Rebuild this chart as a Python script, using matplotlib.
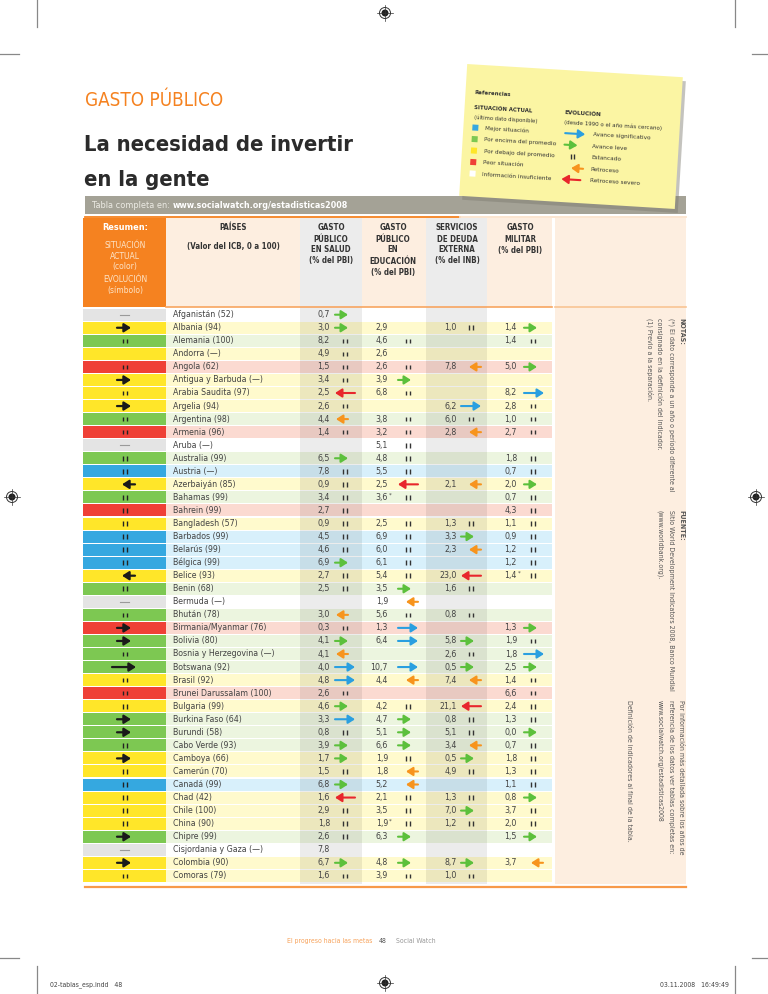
import matplotlib
matplotlib.use('Agg')
import matplotlib.pyplot as plt
from matplotlib import font_manager as fm
from matplotlib.patches import Rectangle, Polygon, Circle
import numpy as np

# narrow face if one is installed, else Liberation Sans
ttf = fm.fontManager.ttflist
if any(f.name == 'Liberation Sans Narrow' for f in ttf):
    plt.rcParams['font.family'] = ['Liberation Sans Narrow', 'DejaVu Sans']
elif any(f.name == 'DejaVu Sans' and 'condensed' in str(f.stretch) for f in ttf):
    plt.rcParams['font.family'] = ['DejaVu Sans']
    plt.rcParams['font.stretch'] = 'condensed'
else:
    plt.rcParams['font.family'] = ['Liberation Sans', 'DejaVu Sans']

# ---- data -------------------------------------------------------------
countries = ['Afganistán (52)', 'Albania (94)', 'Alemania (100)', 'Andorra (—)', 'Angola (62)',
             'Antigua y Barbuda (—)', 'Arabia Saudita (97)', 'Argelia (94)', 'Argentina (98)',
             'Armenia (96)', 'Aruba (—)', 'Australia (99)', 'Austria (—)', 'Azerbaiyán (85)',
             'Bahamas (99)', 'Bahrein (99)', 'Bangladesh (57)', 'Barbados (99)', 'Belarús (99)',
             'Bélgica (99)', 'Belice (93)', 'Benin (68)', 'Bermuda (—)', 'Bhután (78)',
             'Birmania/Myanmar (76)', 'Bolivia (80)', 'Bosnia y Herzegovina (—)', 'Botswana (92)',
             'Brasil (92)', 'Brunei Darussalam (100)', 'Bulgaria (99)', 'Burkina Faso (64)',
             'Burundi (58)', 'Cabo Verde (93)', 'Camboya (66)', 'Camerún (70)', 'Canadá (99)',
             'Chad (42)', 'Chile (100)', 'China (90)', 'Chipre (99)', 'Cisjordania y Gaza (—)',
             'Colombia (90)', 'Comoras (79)']
# situación actual: B mejor, G encima, Y debajo, R peor, N insuficiente
status = list('NYGYRYYYGRNGBYGRYBBBYGNGRGGGYRYGGGYYBYYYGNYY')
# evolución resumen: > avance, L avance significativo, < retroceso, s estancado, d sin dato, _ nada
summary_evo = ['d', '>', 's', '_', 's', '>', 's', '>', 's', 's', 'd', 's', 's', '<', 's', 's', 's', 's',
               's', 's', '<', 's', 'd', 's', '>', '>', 's', 'L', 's', 's', 's', '>', '>', 's', '>', 's',
               's', 's', 's', 's', '>', 'd', '>', 's']

health_val = ['0,7', '3,0', '8,2', '4,9', '1,5', '3,4', '2,5', '2,6', '4,4', '1,4', '', '6,5', '7,8', '0,9',
              '3,4', '2,7', '0,9', '4,5', '4,6', '6,9', '2,7', '2,5', '', '3,0', '0,3', '4,1', '4,1', '4,0',
              '4,8', '2,6', '4,6', '3,3', '0,8', '3,9', '1,7', '1,5', '6,8', '1,6', '2,9', '1,8', '2,6',
              '7,8', '6,7', '1,6']
health_evo = 'g g s s s s r s o s _ g s s s s s s s g s s _ o s g o b b s g b s g g s g r s s s _ g s'.split()

edu_val = ['', '2,9', '4,6', '2,6', '2,6', '3,9', '6,8', '', '3,8', '3,2', '5,1', '4,8', '5,5', '2,5',
           '3,6*', '', '2,5', '6,9', '6,0', '6,1', '5,4', '3,5', '1,9', '5,6', '1,3', '6,4', '', '10,7',
           '4,4', '', '4,2', '4,7', '5,1', '6,6', '1,9', '1,8', '5,2', '2,1', '3,5', '1,9*', '6,3', '',
           '4,8', '3,9']
edu_evo = '_ _ s _ s g s _ s s s s s r s _ s s s s s g o s b b _ b o _ s g g g s o o s s s g _ g s'.split()

debt_val = ['', '1,0', '', '', '7,8', '', '', '6,2', '6,0', '2,8', '', '', '', '2,1', '', '', '1,3', '3,3',
            '2,3', '', '23,0', '1,6', '', '0,8', '', '5,8', '2,6', '0,5', '7,4', '', '21,1', '0,8', '5,1',
            '3,4', '0,5', '4,9', '', '1,3', '7,0', '1,2', '', '', '8,7', '1,0']
debt_evo = '_ s _ _ o _ _ b s o _ _ _ o _ _ s g o _ r s _ s _ g s g o _ r s s o g s _ s g s _ _ g s'.split()

mil_val = ['', '1,4', '1,4', '', '5,0', '', '8,2', '2,8', '1,0', '2,7', '', '1,8', '0,7', '2,0', '0,7',
           '4,3', '1,1', '0,9', '1,2', '1,2', '1,4*', '', '', '', '1,3', '1,9', '1,8', '2,5', '1,4', '6,6',
           '2,4', '1,3', '0,0', '0,7', '1,8', '1,3', '1,1', '0,8', '3,7', '2,0', '1,5', '', '3,7', '']
mil_evo = '_ g s _ g _ b s s s _ s s g s s s s s s s _ _ _ g s b g s s s s g s s s s g s s g _ o _'.split()

col_titles = [['GASTO', 'PÚBLICO', 'EN SALUD', '(% del PBI)'],
              ['GASTO', 'PÚBLICO', 'EN', 'EDUCACIÓN', '(% del PBI)'],
              ['SERVICIOS', 'DE DEUDA', 'EXTERNA', '(% del INB)'],
              ['GASTO', 'MILITAR', '(% del PBI)']]

legend_status = ['Mejor situación', 'Por encima del promedio', 'Por debajo del promedio',
                 'Peor situación', 'Información insuficiente']
legend_evo = ['Avance significativo', 'Avance leve', 'Estancado', 'Retroceso', 'Retroceso severo']

notes = [['NOTAS:', '(*) El dato corresponde a un año o período diferente al',
          'consignado en la definición del indicador.', '(1) Previo a la separación.'],
         ['FUENTE:', 'Sitio World Development Indicators 2008, Banco Mundial', '(www.worldbank.org).'],
         ['Por información más detallada sobre los años de',
          'referencia de los datos ver tablas completas en:', 'www.socialwatch.org/estadisticas2008']]

# ---- style ------------------------------------------------------------
ORANGE = '#f58220'
TXT = '#434343'
strong = {'B': '#35a8e0', 'G': '#7dc852', 'Y': '#ffe629', 'R': '#ef4036', 'N': '#e4e4e4'}
tint = {'B': '#d8f0fb', 'G': '#ecf5df', 'Y': '#fffacd', 'R': '#fbdad1', 'N': '#ffffff'}
evo_col = {'b': '#2a9fe0', 'g': '#5cc03c', 'o': '#f7941d', 'r': '#e8262c'}
RIGHT = 686

fig = plt.figure(figsize=(7.68, 9.94), dpi=100)
ax = fig.add_axes([0, 0, 1, 1])
ax.set_xlim(0, 768)
ax.set_ylim(994, 0)
ax.axis('off')
renderer = fig.canvas.get_renderer()


def fitsize(s, width, size=10, vertical=False, **kw):
    t = ax.text(0, 0, s, fontsize=size, rotation=-90 if vertical else 0, **kw)
    bb = t.get_window_extent(renderer)
    t.remove()
    return size * width / (bb.height if vertical else bb.width)


def box(x0, y0, x1, y1, color, z=1, **kw):
    ax.add_patch(Rectangle((x0, y0), x1 - x0, y1 - y0, facecolor=color, edgecolor='none', zorder=z, **kw))


def arrow(xt, xh, y, color, lw=1.5, ms=8, z=5):
    ax.annotate('', xy=(xh, y), xytext=(xt, y), zorder=z,
                arrowprops=dict(arrowstyle='-|>,head_length=0.5,head_width=0.32', color=color,
                                lw=lw, mutation_scale=ms, shrinkA=0, shrinkB=0))


def stag(x, y, color='#333333', h=2.3, z=5):
    for dx in (-1.6, 1.6):
        ax.plot([x + dx, x + dx], [y - h, y + h], color=color, lw=1.0, solid_capstyle='butt', zorder=z)


# ---- page titles -----------------------------------------------------
ax.text(85, 100, 'GASTO PÚBLICO', color=ORANGE, fontsize=fitsize('GASTO PÚBLICO', 138), va='center')
fs_t = fitsize('La necesidad de invertir', 268, fontweight='bold')
ax.text(84, 145, 'La necesidad de invertir', color='#2b2b2b', fontsize=fs_t, fontweight='bold', va='center')
ax.text(84, 180, 'en la gente', color='#2b2b2b', fontsize=fs_t, fontweight='bold', va='center')

# gray bar
box(85, 196, RIGHT, 214, '#a4a296', z=2)
ax.text(92, 205.5, 'Tabla completa en:', color='#ecebe4', fontsize=fitsize('Tabla completa en:', 78),
        va='center', zorder=3)
url = 'www.socialwatch.org/estadisticas2008'
ax.text(173, 205.5, url, color='white', fontsize=fitsize(url, 174, fontweight='bold'),
        fontweight='bold', va='center', zorder=3)
ax.plot([85, 460], [216.5, 216.5], color=ORANGE, lw=1.3, zorder=2)
ax.plot([460, RIGHT], [216.5, 216.5], color='#fbe3cc', lw=1.3, zorder=2)

# ---- legend card (tilted) ---------------------------------------------
cx, cy, a = 571, 136.5, np.deg2rad(3.5)


def rot(u, v):
    return cx + u * np.cos(a) - v * np.sin(a), cy + u * np.sin(a) + v * np.cos(a)


card = [rot(-108, -66), rot(108, -66), rot(108, 66), rot(-108, 66)]
shadow = [(x + 3, y + 4) for x, y in card]
ax.add_patch(Polygon(shadow, closed=True, facecolor='#7d7b70', alpha=0.45, edgecolor='none', zorder=3))
ax.add_patch(Polygon(card, closed=True, facecolor='#fbf5a3', edgecolor='none', zorder=4))


def ltext(u, v, s, width, bold=False):
    x, y = rot(u, v)
    w = 'bold' if bold else 'normal'
    ax.text(x, y, s, rotation=-3.5, rotation_mode='anchor', va='center', ha='left', zorder=6,
            color='#333333', fontweight=w, fontsize=fitsize(s, width, fontweight=w))


fs_leg = fitsize('Por encima del promedio', 72)
ltext(-99, -38, 'Referencias', 36, bold=True)
ltext(-98, -23, 'SITUACIÓN ACTUAL', 58, bold=True)
ltext(-98, -13, '(último dato disponible)', 64)
ltext(-8, -24, 'EVOLUCIÓN', 37, bold=True)
ltext(-8, -14, '(desde 1990 o el año más cercano)', 98)
for k, (code, lab) in enumerate(zip('BGYRN', legend_status)):
    v = -3 + 11.5 * k
    sq = [rot(-99, v - 3), rot(-93, v - 3), rot(-93, v + 3), rot(-99, v + 3)]
    ax.add_patch(Polygon(sq, closed=True, facecolor='white' if code == 'N' else strong[code],
                         edgecolor='none', zorder=6))
    x, y = rot(-86, v)
    ax.text(x, y, lab, rotation=-3.5, rotation_mode='anchor', va='center', ha='left', zorder=6,
            color='#333333', fontsize=fs_leg)
for k, (code, lab) in enumerate(zip('bgsor', legend_evo)):
    v = -3 + 11.5 * k
    ends = {'b': (-6, 14), 'g': (-6, 7), 'o': (14, 2), 'r': (12, -7)}
    if code == 's':
        x, y = rot(3, v)
        stag(x, y, z=7)
    else:
        p0, p1 = rot(ends[code][0], v), rot(ends[code][1], v)
        ax.annotate('', xy=p1, xytext=p0, zorder=7,
                    arrowprops=dict(arrowstyle='-|>,head_length=0.5,head_width=0.32',
                                    color=evo_col[code], lw=1.5, mutation_scale=8, shrinkA=0, shrinkB=0))
    x, y = rot(22, v)
    ax.text(x, y, lab, rotation=-3.5, rotation_mode='anchor', va='center', ha='left', zorder=6,
            color='#333333', fontsize=fs_leg)

# ---- table header --------------------------------------------------------
TOP, HB = 218, 307
box(83, TOP, 166, HB, ORANGE, z=2)
box(166, TOP, 552, HB, '#fdeee0', z=1)
box(555, TOP, RIGHT, 884, '#fdeee0', z=1)
box(300, TOP, 362, 884, '#ececec', z=1.5)
box(426, TOP, 487, 884, '#ececec', z=1.5)
ax.plot([166, 552], [HB, HB], color='#f7a560', lw=1.2, zorder=3)
ax.plot([555, RIGHT], [HB, HB], color='#f9c494', lw=1.2, zorder=3)

ax.text(125, 228, 'Resumen:', color='white', fontsize=fitsize('Resumen:', 46, fontweight='bold'),
        fontweight='bold', ha='center', va='center', zorder=3)
fs_sub = fitsize('SITUACIÓN', 42)
for yy, s in zip([246, 256.5, 267, 279, 290], ['SITUACIÓN', 'ACTUAL', '(color)', 'EVOLUCIÓN', '(símbolo)']):
    ax.text(125, yy, s, color='#fde3c6', fontsize=fs_sub, ha='center', va='center', zorder=3)
fs_h = fitsize('(Valor del ICB, 0 a 100)', 92, fontweight='bold')
ax.text(233, 228, 'PAÍSES', color='#333333', fontsize=fs_h, fontweight='bold', ha='center', va='center', zorder=3)
ax.text(233, 247, '(Valor del ICB, 0 a 100)', color='#333333', fontsize=fs_h, fontweight='bold',
        ha='center', va='center', zorder=3)
for xc, lines in zip([331, 393, 457, 520], col_titles):
    for k, s in enumerate(lines):
        ax.text(xc, 228 + 11 * k, s, color='#333333', fontsize=fs_h, fontweight='bold',
                ha='center', va='center', zorder=3)

# ---- rows --------------------------------------------------------------
Y0, DY, HH = 314.7, 13.05, 6.0
fs_r = fitsize('Bosnia y Herzegovina (—)', 102)
cols = [dict(vals=health_val, evo=health_evo, xr=330, x0=335, st=345, oo=1),
        dict(vals=edu_val, evo=edu_evo, xr=388, x0=398, st=408, oo=8),
        dict(vals=debt_val, evo=debt_evo, xr=457, x0=461, st=471, oo=8),
        dict(vals=mil_val, evo=mil_evo, xr=517, x0=524, st=533, oo=7)]

for i, name in enumerate(countries):
    y = Y0 + DY * i
    c = status[i]
    box(83, y - HH, 166, y + HH, strong[c], z=2)
    box(166, y - HH, 552, y + HH, tint[c], z=2)
    for x0, x1 in [(300, 362), (426, 487)]:
        box(x0, y - HH, x1, y + HH, '#000000', z=2.5, alpha=0.075)
    s = summary_evo[i]
    if s == '>':
        arrow(117, 131, y, '#1a1a1a', lw=1.6)
    elif s == 'L':
        arrow(112, 136, y, '#1a1a1a', lw=1.6)
    elif s == '<':
        arrow(135, 122, y, '#1a1a1a', lw=1.6)
    elif s == 's':
        stag(125, y, '#222222')
    elif s == 'd':
        ax.plot([120, 129], [y, y], color='#9a9a9a', lw=0.8, zorder=5)
    ax.text(173, y, name, fontsize=fs_r, color=TXT, va='center', ha='left', zorder=5)
    for col in cols:
        v = col['vals'][i]
        if v:
            ax.text(col['xr'], y, v.rstrip('*'), fontsize=fs_r, color=TXT, va='center', ha='right', zorder=5)
            if v.endswith('*'):
                ax.text(col['xr'] + 0.5, y - 2.5, '*', fontsize=fs_r * 0.7, color=TXT, va='center',
                        ha='left', zorder=5)
        e = col['evo'][i]
        x0 = col['x0']
        if e == 'g':
            arrow(x0, x0 + 13, y, evo_col['g'])
        elif e == 'b':
            arrow(x0, x0 + 20, y, evo_col['b'])
        elif e == 'o':
            arrow(x0 + col['oo'] + 12, x0 + col['oo'], y, evo_col['o'])
        elif e == 'r':
            arrow(x0 + 20, x0, y, evo_col['r'])
        elif e == 's':
            stag(col['st'], y)

ax.plot([85, RIGHT], [887, 887], color='#f79a4a', lw=1.6, zorder=3)

# ---- side notes (rotated) -------------------------------------------------
NC = '#555555'
fs_n = fitsize(notes[0][1], 172, vertical=True)
for block, ystart in zip(notes, [318, 510, 700]):
    for k, s in enumerate(block):
        w = 'bold' if s.endswith(':') and s.isupper() else 'normal'
        ax.text(681 - 10.5 * k, ystart, s, rotation=-90, fontsize=fs_n, fontweight=w, color=NC,
                ha='center', va='top', zorder=3)
ax.text(629, 700, 'Definición de indicadores al final de la tabla.', rotation=-90, fontsize=fs_n,
        color=NC, ha='center', va='top', zorder=3)

# ---- footer & print marks ------------------------------------------------
fs_f = fitsize('El progreso hacia las metas', 86)
ax.text(372, 941, 'El progreso hacia las metas', color='#f7a35c', fontsize=fs_f, ha='right', va='center')
ax.text(383, 941, '48', color='#555555', fontsize=fs_f, ha='center', va='center')
ax.text(396, 941, 'Social Watch', color='#999999', fontsize=fs_f, ha='left', va='center')
ax.text(50, 985, '02-tablas_esp.indd   48', color='#444444', fontsize=fs_f, ha='left', va='center')
ax.text(729, 985, '03.11.2008   16:49:49', color='#444444', fontsize=fs_f, ha='right', va='center')

mark = dict(color='#888888', lw=0.9)
ax.plot([37, 37], [0, 27], **mark)
ax.plot([735, 735], [0, 27], **mark)
ax.plot([0, 19], [54, 54], **mark)
ax.plot([752, 768], [54, 54], **mark)
ax.plot([0, 19], [958, 958], **mark)
ax.plot([752, 768], [958, 958], **mark)
ax.plot([37, 37], [966, 994], **mark)
ax.plot([735, 735], [966, 994], **mark)
for (x, y) in [(385, 13), (385, 983), (12, 497), (756, 497)]:
    ax.add_patch(Circle((x, y), 5.5, fill=False, edgecolor='#333333', lw=0.7))
    ax.add_patch(Circle((x, y), 3.5, facecolor='#222222', edgecolor='none'))
    ax.plot([x - 8, x + 8], [y, y], color='#333333', lw=0.5)
    ax.plot([x, x], [y - 8, y + 8], color='#333333', lw=0.5)

fig.savefig('out.png', dpi=100)
